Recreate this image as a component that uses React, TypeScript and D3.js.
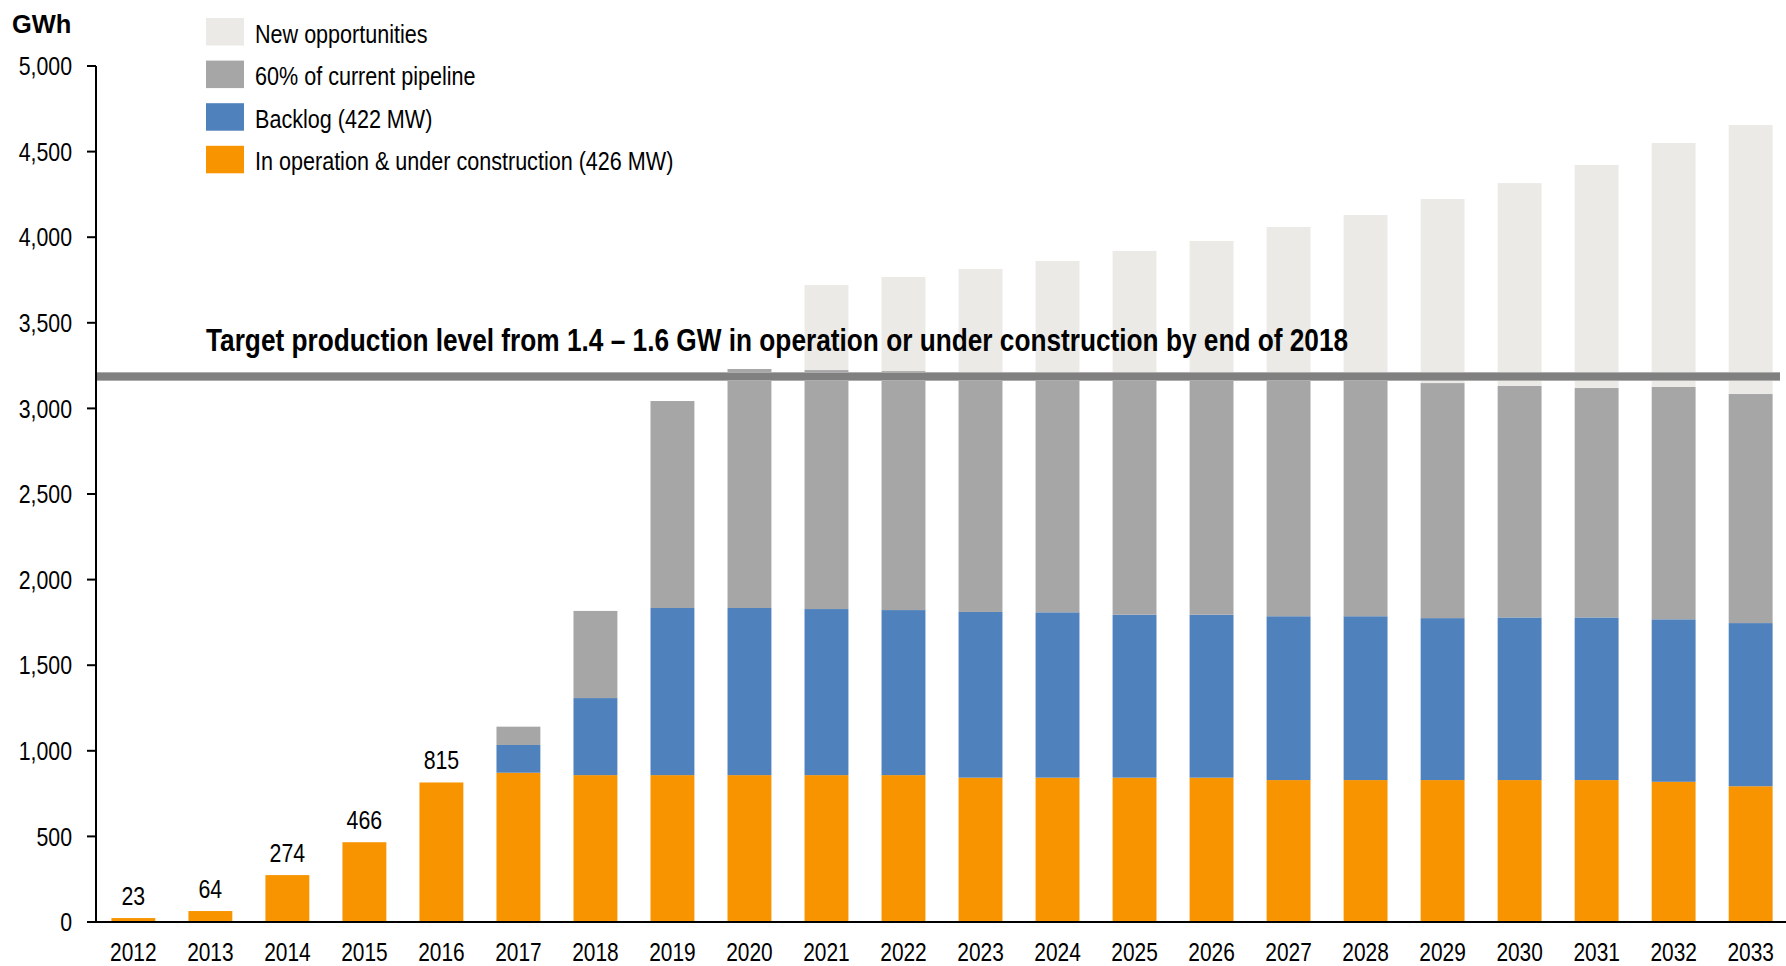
import React from "react";
import * as d3 from "d3";

const years = [
  "2012", "2013", "2014", "2015", "2016", "2017", "2018", "2019", "2020", "2021", "2022",
  "2023", "2024", "2025", "2026", "2027", "2028", "2029", "2030", "2031", "2032", "2033",
];
const inOperation = [23, 64, 274, 466, 815, 872, 858, 858, 858, 858, 858, 843, 843, 843, 843, 829, 829, 829, 829, 829, 819, 793];
const backlog = [0, 0, 0, 0, 0, 162, 450, 976, 976, 970, 964, 968, 966, 952, 952, 957, 957, 946, 950, 950, 949, 953];
const pipeline60 = [0, 0, 0, 0, 0, 107, 509, 1209, 1396, 1396, 1396, 1399, 1391, 1400, 1395, 1394, 1384, 1373, 1352, 1340, 1357, 1338];
const newOpportunities = [0, 0, 0, 0, 0, 0, 0, 0, 0, 497, 550, 604, 661, 725, 788, 880, 960, 1075, 1185, 1303, 1425, 1571];
const labeledYears = ["2012", "2013", "2014", "2015", "2016"];
const yTicks = [0, 500, 1000, 1500, 2000, 2500, 3000, 3500, 4000, 4500, 5000];
const targetLevel = 3186;
const targetText = "Target production level from 1.4 \u2013 1.6 GW in operation or under construction by end of 2018";
const unitLabel = "GWh";

const seriesKeys = ["inOperation", "backlog", "pipeline60", "newOpportunities"];
const seriesNames: Record<string, string> = {
  newOpportunities: "New opportunities",
  pipeline60: "60% of current pipeline",
  backlog: "Backlog (422 MW)",
  inOperation: "In operation & under construction (426 MW)",
};
const seriesColors: Record<string, string> = {
  inOperation: "#F79400",
  backlog: "#4F81BD",
  pipeline60: "#A6A6A6",
  newOpportunities: "#EBEAE6",
};
const legendOrder = ["newOpportunities", "pipeline60", "backlog", "inOperation"];

const W = 1786;
const H = 966;
const FONT = "'Liberation Sans', Arial, sans-serif";
const NARROW = 0.82;

// Condensed text (Arial Narrow look) via horizontal scaling
function NText(props: {
  x: number;
  y: number;
  anchor?: "start" | "middle" | "end";
  size: number;
  bold?: boolean;
  dy?: string;
  sx?: number;
  children: React.ReactNode;
}) {
  const { x, y, anchor = "start", size, bold, dy, sx = NARROW, children } = props;
  return (
    <g transform={`translate(${x},${y}) scale(${sx},1)`}>
      <text x={0} y={0} dy={dy} textAnchor={anchor} fontSize={size} fontWeight={bold ? "bold" : "normal"} fill="#000">
        {children}
      </text>
    </g>
  );
}

export default function App() {
  const rows = years.map((y, i) => ({
    year: y,
    inOperation: inOperation[i],
    backlog: backlog[i],
    pipeline60: pipeline60[i],
    newOpportunities: newOpportunities[i],
  }));
  const stacked = d3.stack<any>().keys(seriesKeys)(rows);

  const x = d3.scaleBand<string>().domain(years).range([96, 1788]).paddingInner(0.43).paddingOuter(0.2);
  const y = d3.scaleLinear().domain([0, 5000]).range([922, 66]);
  const axisX = 96;
  const cx = (yr: string) => (x(yr) as number) + x.bandwidth() / 2;

  return (
    <svg width={W} height={H} style={{ position: "absolute", left: 0, top: 0, background: "#fff" }} fontFamily={FONT}>
      {/* bars */}
      {stacked.map((s) => (
        <g key={s.key} fill={seriesColors[s.key]}>
          {s.map((d, i) =>
            d[1] - d[0] > 0 ? (
              <rect key={i} x={x(years[i])} width={x.bandwidth()} y={y(d[1])} height={y(d[0]) - y(d[1])} />
            ) : null
          )}
        </g>
      ))}

      {/* value labels */}
      {labeledYears.map((yr) => {
        const i = years.indexOf(yr);
        return (
          <NText key={yr} x={cx(yr)} y={y(inOperation[i]) - 13} anchor="middle" size={26}>
            {inOperation[i]}
          </NText>
        );
      })}

      {/* target line */}
      <line x1={axisX} x2={1780} y1={y(targetLevel)} y2={y(targetLevel)} stroke="#ADADAD" strokeWidth={9} />
      <line x1={axisX} x2={1780} y1={y(targetLevel)} y2={y(targetLevel)} stroke="#808080" strokeWidth={7} />
      <NText x={206} y={351} size={32} bold>
        {targetText}
      </NText>

      {/* y axis */}
      <line x1={axisX} x2={axisX} y1={y(5000)} y2={y(0)} stroke="#000" strokeWidth={2} />
      {yTicks.map((t) => (
        <g key={t}>
          <line x1={87} x2={axisX} y1={y(t)} y2={y(t)} stroke="#000" strokeWidth={2} />
          <NText x={72} y={y(t)} dy="0.35em" anchor="end" size={26}>
            {d3.format(",")(t)}
          </NText>
        </g>
      ))}
      {/* x axis */}
      <line x1={87} x2={W} y1={y(0)} y2={y(0)} stroke="#000" strokeWidth={2} />
      {years.map((yr) => (
        <NText key={yr} x={cx(yr)} y={961} anchor="middle" size={25.5}>
          {yr}
        </NText>
      ))}

      {/* unit label */}
      <NText x={12} y={33} size={26} bold sx={0.98}>
        {unitLabel}
      </NText>

      {/* legend */}
      {legendOrder.map((k, i) => (
        <g key={k} transform={`translate(206, ${18 + i * 42.6})`}>
          <rect width={38} height={27.5} fill={seriesColors[k]} />
          <NText x={49} y={24.5} size={26} sx={0.83}>
            {seriesNames[k]}
          </NText>
        </g>
      ))}
    </svg>
  );
}
